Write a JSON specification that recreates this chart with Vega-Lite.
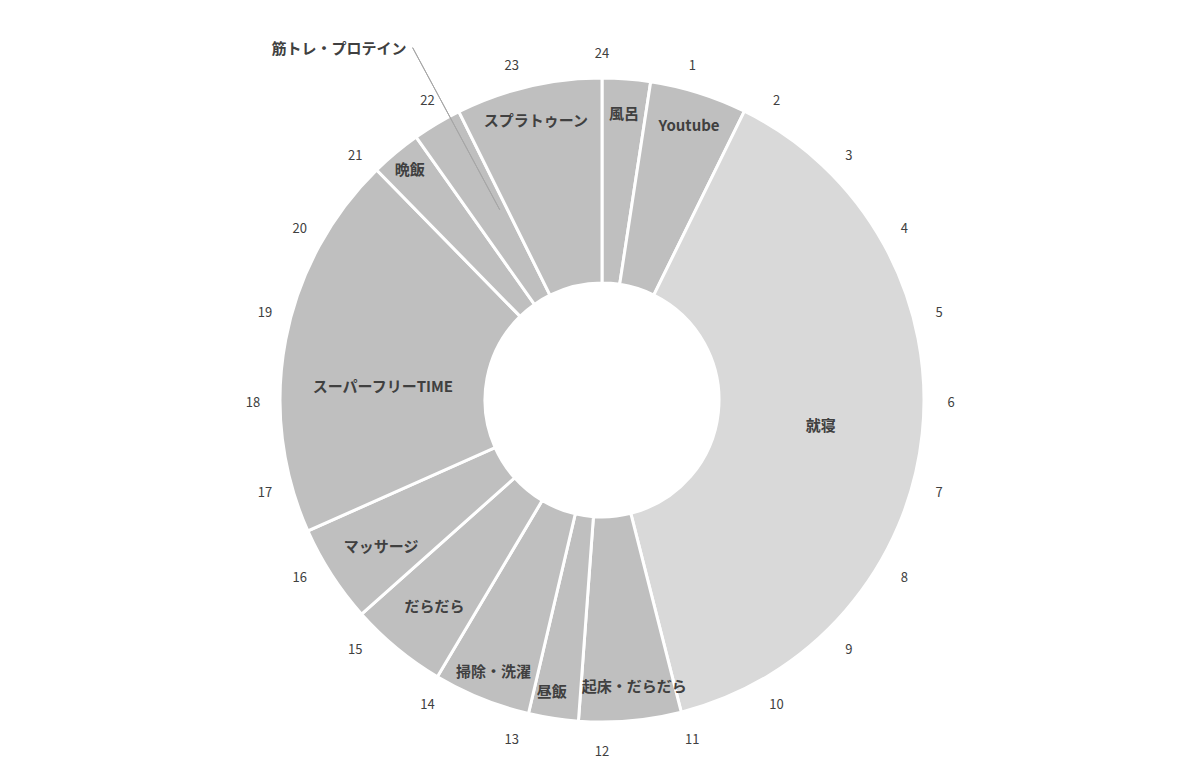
{
  "$schema": "https://vega.github.io/schema/vega-lite/v6.json",
  "width": 1194,
  "height": 754,
  "autosize": {"type": "none"},
  "padding": {"left": 5, "top": 23, "right": 0, "bottom": 0},
  "background": "#ffffff",
  "config": {"view": {"stroke": null}},
  "datasets": {
    "segments": [
      {"i": 1, "name": "風呂", "hours": 0.58},
      {"i": 2, "name": "Youtube", "hours": 1.17},
      {"i": 3, "name": "就寝", "hours": 9.3},
      {"i": 4, "name": "起床・だらだら", "hours": 1.23},
      {"i": 5, "name": "昼飯", "hours": 0.6},
      {"i": 6, "name": "掃除・洗濯", "hours": 1.17},
      {"i": 7, "name": "だらだら", "hours": 1.17},
      {"i": 8, "name": "マッサージ", "hours": 1.18},
      {"i": 9, "name": "スーパーフリーTIME", "hours": 4.64},
      {"i": 10, "name": "晩飯", "hours": 0.61},
      {"i": 11, "name": "筋トレ・プロテイン", "hours": 0.59},
      {"i": 12, "name": "スプラトゥーン", "hours": 1.76}
    ],
    "clock": [
      {"h": 1, "label": "1"}, {"h": 2, "label": "2"}, {"h": 3, "label": "3"},
      {"h": 4, "label": "4"}, {"h": 5, "label": "5"}, {"h": 6, "label": "6"},
      {"h": 7, "label": "7"}, {"h": 8, "label": "8"}, {"h": 9, "label": "9"},
      {"h": 10, "label": "10"}, {"h": 11, "label": "11"}, {"h": 12, "label": "12"},
      {"h": 13, "label": "13"}, {"h": 14, "label": "14"}, {"h": 15, "label": "15"},
      {"h": 16, "label": "16"}, {"h": 17, "label": "17"}, {"h": 18, "label": "18"},
      {"h": 19, "label": "19"}, {"h": 20, "label": "20"}, {"h": 21, "label": "21"},
      {"h": 22, "label": "22"}, {"h": 23, "label": "23"}, {"h": 24, "label": "24"}
    ]
  },
  "layer": [
    {
      "data": {"name": "segments"},
      "mark": {"type": "arc", "outerRadius": 322, "innerRadius": 117, "stroke": "#ffffff", "strokeWidth": 3},
      "encoding": {
        "theta": {"field": "hours", "type": "quantitative", "stack": true, "scale": {"domain": [0, 24]}},
        "order": {"field": "i", "type": "quantitative"},
        "detail": {"field": "name", "type": "nominal"},
        "color": {"condition": {"test": "datum.name === '就寝'", "value": "#d9d9d9"}, "value": "#bfbfbf"}
      }
    },
    {
      "data": {"name": "segments"},
      "transform": [{"filter": "datum.name === '筋トレ・プロテイン'"}],
      "mark": {"type": "arc", "theta": 5.79, "theta2": 5.79, "radius": 400, "radius2": 216, "fill": null, "stroke": "#a6a6a6", "strokeWidth": 1},
      "encoding": {}
    },
    {
      "data": {"name": "segments"},
      "mark": {"type": "text", "radius": 290, "dy": 3, "font": "Noto Sans CJK JP", "fontSize": 15, "fontWeight": "bold", "fill": "#404040", "baseline": "middle", "align": "center"},
      "encoding": {
        "theta": {"field": "hours", "type": "quantitative", "stack": true, "scale": {"domain": [0, 24]}},
        "order": {"field": "i", "type": "quantitative"},
        "detail": {"field": "name", "type": "nominal"},
        "text": {"condition": {"test": "indexof(['風呂','Youtube','掃除・洗濯','スプラトゥーン'], datum.name) >= 0", "field": "name"}, "value": ""}
      }
    },
    {
      "data": {"name": "segments"},
      "mark": {"type": "text", "radius": 288, "dx": 7, "dy": 0, "font": "Noto Sans CJK JP", "fontSize": 15, "fontWeight": "bold", "fill": "#404040", "baseline": "middle", "align": "center"},
      "encoding": {
        "theta": {"field": "hours", "type": "quantitative", "stack": true, "scale": {"domain": [0, 24]}},
        "order": {"field": "i", "type": "quantitative"},
        "detail": {"field": "name", "type": "nominal"},
        "text": {"condition": {"test": "datum.name === '起床・だらだら'", "field": "name"}, "value": ""}
      }
    },
    {
      "data": {"name": "segments"},
      "mark": {"type": "text", "radius": 292, "dx": -6, "dy": 3, "font": "Noto Sans CJK JP", "fontSize": 15, "fontWeight": "bold", "fill": "#404040", "baseline": "middle", "align": "center"},
      "encoding": {
        "theta": {"field": "hours", "type": "quantitative", "stack": true, "scale": {"domain": [0, 24]}},
        "order": {"field": "i", "type": "quantitative"},
        "detail": {"field": "name", "type": "nominal"},
        "text": {"condition": {"test": "datum.name === '昼飯'", "field": "name"}, "value": ""}
      }
    },
    {
      "data": {"name": "segments"},
      "mark": {"type": "text", "radius": 300, "dy": 0, "font": "Noto Sans CJK JP", "fontSize": 15, "fontWeight": "bold", "fill": "#404040", "baseline": "middle", "align": "center"},
      "encoding": {
        "theta": {"field": "hours", "type": "quantitative", "stack": true, "scale": {"domain": [0, 24]}},
        "order": {"field": "i", "type": "quantitative"},
        "detail": {"field": "name", "type": "nominal"},
        "text": {"condition": {"test": "datum.name === '晩飯'", "field": "name"}, "value": ""}
      }
    },
    {
      "data": {"name": "segments"},
      "mark": {"type": "text", "radius": 263, "dy": 4, "font": "Noto Sans CJK JP", "fontSize": 15, "fontWeight": "bold", "fill": "#404040", "baseline": "middle", "align": "center"},
      "encoding": {
        "theta": {"field": "hours", "type": "quantitative", "stack": true, "scale": {"domain": [0, 24]}},
        "order": {"field": "i", "type": "quantitative"},
        "detail": {"field": "name", "type": "nominal"},
        "text": {"condition": {"test": "indexof(['だらだら','マッサージ'], datum.name) >= 0", "field": "name"}, "value": ""}
      }
    },
    {
      "data": {"name": "segments"},
      "mark": {"type": "text", "radius": 220, "dy": 3, "font": "Noto Sans CJK JP", "fontSize": 15, "fontWeight": "bold", "fill": "#404040", "baseline": "middle", "align": "center"},
      "encoding": {
        "theta": {"field": "hours", "type": "quantitative", "stack": true, "scale": {"domain": [0, 24]}},
        "order": {"field": "i", "type": "quantitative"},
        "detail": {"field": "name", "type": "nominal"},
        "text": {"condition": {"test": "datum.name === '就寝'", "field": "name"}, "value": ""}
      }
    },
    {
      "data": {"name": "segments"},
      "mark": {"type": "text", "radius": 220, "dx": -3, "dy": 28, "font": "Noto Sans CJK JP", "fontSize": 15, "fontWeight": "bold", "fill": "#404040", "baseline": "middle", "align": "center"},
      "encoding": {
        "theta": {"field": "hours", "type": "quantitative", "stack": true, "scale": {"domain": [0, 24]}},
        "order": {"field": "i", "type": "quantitative"},
        "detail": {"field": "name", "type": "nominal"},
        "text": {"condition": {"test": "datum.name === 'スーパーフリーTIME'", "field": "name"}, "value": ""}
      }
    },
    {
      "data": {"name": "segments"},
      "mark": {"type": "text", "radius": 411, "dx": 15, "dy": 2, "font": "Noto Sans CJK JP", "fontSize": 15, "fontWeight": "bold", "fill": "#404040", "baseline": "middle", "align": "right"},
      "encoding": {
        "theta": {"field": "hours", "type": "quantitative", "stack": true, "scale": {"domain": [0, 24]}},
        "order": {"field": "i", "type": "quantitative"},
        "detail": {"field": "name", "type": "nominal"},
        "text": {"condition": {"test": "datum.name === '筋トレ・プロテイン'", "field": "name"}, "value": ""}
      }
    },
    {
      "data": {"name": "clock"},
      "mark": {"type": "text", "radius": 349, "dy": 3, "font": "Noto Sans CJK JP", "fontSize": 13, "fill": "#404040", "baseline": "middle", "align": "center"},
      "encoding": {
        "theta": {"field": "h", "type": "quantitative", "stack": null, "scale": {"domain": [0, 24]}},
        "text": {"field": "label", "type": "nominal"}
      }
    }
  ],
  "resolve": {"scale": {"theta": "independent"}}
}
